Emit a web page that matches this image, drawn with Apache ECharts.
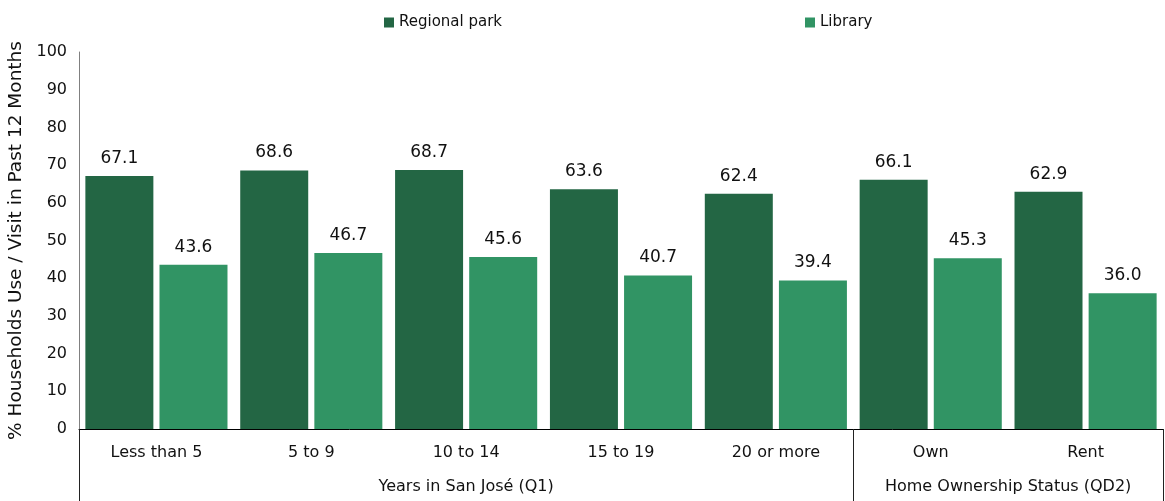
<!DOCTYPE html>
<html>
<head>
<meta charset="utf-8">
<title>Regional park and library use</title>
<script src="https://cdn.jsdelivr.net/npm/echarts@6/dist/echarts.min.js"></script>
<style>
  html, body { margin: 0; padding: 0; background: #ffffff; }
  #chart { width: 1165px; height: 501px; }
</style>
</head>
<body>
<div id="chart"></div>
<script>
// Subgroups along the horizontal axis
const categories = ['Less than 5', '5 to 9', '10 to 14', '15 to 19', '20 or more', 'Own', 'Rent'];
// Percent of households using / visiting in the past 12 months
const regionalPark = [67.1, 68.6, 68.7, 63.6, 62.4, 66.1, 62.9];
const library = [43.6, 46.7, 45.6, 40.7, 39.4, 45.3, 36.0];
// Question groups: label and number of categories in each
const groupNames = ['Years in San José (Q1)', 'Home Ownership Status (QD2)'];
const groupSizes = [5, 2];
const yTicks = { min: 0, max: 100, step: 10 };

const FONT = 'DejaVu Sans';
const DARK = '#236644';
const LIGHT = '#319464';

// Boundaries and centres of each group, in category units
const groupEdges = [0];
groupSizes.forEach(n => groupEdges.push(groupEdges[groupEdges.length - 1] + n));
const groupCentres = groupSizes.map((n, i) => groupEdges[i] + n / 2);

const chart = echarts.init(document.getElementById('chart'));

const valueLabel = {
  show: true, position: 'top', distance: 9,
  fontFamily: FONT, fontSize: 17, color: '#111',
  formatter: p => p.value.toFixed(1)
};

chart.setOption({
  animation: false,
  textStyle: { fontFamily: FONT },
  legend: [
    {
      data: ['Regional park'],
      left: 379, top: 10,
      itemWidth: 10, itemHeight: 10, itemGap: 4,
      icon: 'rect',
      textStyle: { fontFamily: FONT, fontSize: 15, color: '#111' }
    },
    {
      data: ['Library'],
      left: 800, top: 10,
      itemWidth: 10, itemHeight: 10, itemGap: 4,
      icon: 'rect',
      textStyle: { fontFamily: FONT, fontSize: 15, color: '#111' }
    }
  ],
  grid: { left: 79, right: 2, top: 52, bottom: 72, containLabel: false, outerBoundsMode: 'none' },
  xAxis: [
    {
      type: 'category',
      data: categories,
      position: 'bottom',
      axisLine: { show: true, lineStyle: { color: '#000', width: 1 } },
      axisTick: { show: false },
      axisLabel: { fontFamily: FONT, fontSize: 16, color: '#111', margin: 16, interval: 0 },
      splitLine: { show: false }
    },
    {
      type: 'value',
      min: 0,
      max: categories.length,
      position: 'bottom',
      axisLine: { show: false },
      axisTick: {
        show: true,
        customValues: groupEdges,
        length: 72,
        lineStyle: { color: '#222', width: 1 }
      },
      axisLabel: {
        show: true,
        customValues: groupCentres,
        margin: 50,
        fontFamily: FONT, fontSize: 16, color: '#111',
        formatter: v => {
          const i = groupCentres.indexOf(v);
          return i >= 0 ? groupNames[i] : '';
        }
      },
      splitLine: { show: false }
    }
  ],
  yAxis: {
    type: 'value',
    min: yTicks.min,
    max: yTicks.max,
    interval: yTicks.step,
    name: '% Households Use / Visit in Past 12 Months',
    nameLocation: 'middle',
    nameGap: 53,
    nameTextStyle: { fontFamily: FONT, fontSize: 18.5, color: '#111' },
    axisLine: { show: true, lineStyle: { color: '#808080', width: 1 } },
    axisTick: { show: false },
    axisLabel: { fontFamily: FONT, fontSize: 16, color: '#111', margin: 12 },
    splitLine: { show: false }
  },
  series: [
    {
      name: 'Regional park',
      type: 'bar',
      xAxisIndex: 0,
      data: regionalPark,
      barWidth: 68,
      barGap: '9%',
      itemStyle: { color: DARK },
      label: valueLabel
    },
    {
      name: 'Library',
      type: 'bar',
      xAxisIndex: 0,
      data: library,
      barWidth: 68,
      barGap: '9%',
      itemStyle: { color: LIGHT },
      label: valueLabel
    }
  ]
});
</script>
</body>
</html>
